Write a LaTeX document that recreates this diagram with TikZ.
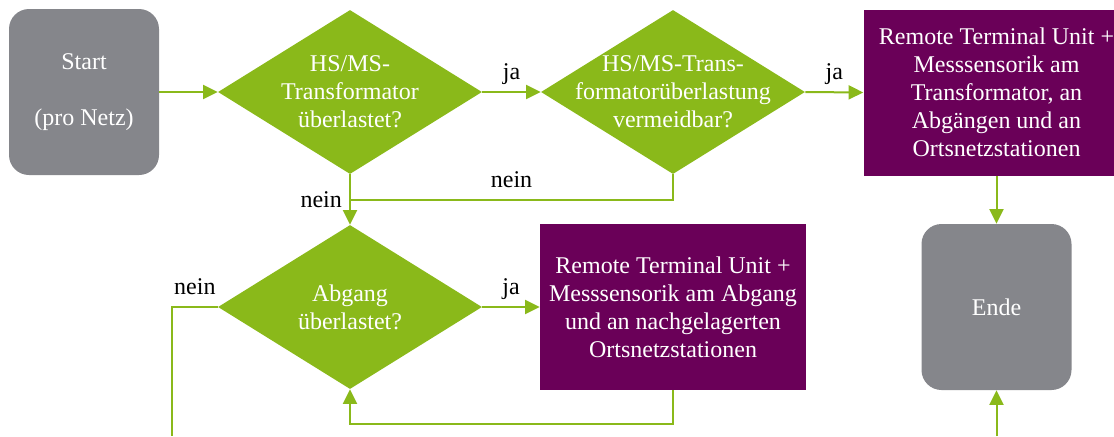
\documentclass[tikz,border=0pt]{standalone}
\usepackage{fontspec}
\setmainfont{Liberation Serif}
\usetikzlibrary{shapes.geometric,arrows.meta}
\definecolor{ngreen}{RGB}{138,185,26}
\definecolor{npurple}{RGB}{106,0,88}
\definecolor{ngray}{RGB}{133,134,139}

\begin{document}
\begin{tikzpicture}[x=0.75pt,y=-0.75pt,
        font=\fontsize{18}{21}\selectfont,
        >={Triangle[length=11pt,width=10.5pt]},
        term/.style={rectangle,rounded corners=15pt,fill=ngray,text=white,align=center,
            minimum width=112.5pt,minimum height=124.5pt},
        decision/.style={diamond,fill=ngreen,inner sep=0pt,minimum width=198pt,minimum height=123pt},
        dtext/.style={text=white,align=center},
        action/.style={rectangle,fill=npurple,text=white,align=center,
            minimum width=199.5pt,minimum height=124.5pt,inner sep=2pt},
        flow/.style={draw=ngreen,line width=1.5pt},
        answer/.style={text depth=3.5pt}]
            \clip (0,0) rectangle (1114,436);
            \coordinate (join) at (350,200);
            \coordinate (outleft) at (172,436);
            \coordinate (outright) at (996.5,436);

            \node[term] (start) at (84,92) {Start\\{}\\(pro Netz)};
            \node[decision,label={[dtext]center:HS/MS-\\Transformator\\überlastet?}] (d1) at (350,92) {};
            \node[decision,label={[dtext]center:HS/MS-Trans-\\formatorüberlastung\\vermeidbar?}] (d2) at (673,92) {};
            \node[action] (p1) at (996.5,92.5) {Remote Terminal Unit +\\Messsensorik am\\Transformator, an\\Abgängen und an\\Ortsnetzstationen};
            \node[decision,label={[dtext]center:Abgang\\überlastet?}] (d3) at (350,307) {};
            \node[action] (p2) at (673,307) {Remote Terminal Unit +\\Messsensorik am Abgang\\und an nachgelagerten\\Ortsnetzstationen};
            \node[term] (ende) at (996.5,307) {Ende};

            \draw[flow,->] (start.east) -- (d1.west);
            \draw[flow,->] (d1.east) -- (d2.west) node[answer,midway,above=2pt] {ja};
            \draw[flow,->] (d2.east) -- (p1.west) node[answer,midway,above=2pt] {ja};
            \draw[flow,->] (d1.south) -- (d3.north) node[midway,left=2pt] {nein};
            \draw[flow] (d2.south) |- (join) node[answer,pos=0.75,above=2pt] {nein};
            \draw[flow,->] (p1.south) -- (ende.north);
            \draw[flow,->] (d3.east) -- (p2.west) node[answer,midway,above=2pt] {ja};
            \draw[flow] (d3.west) -| (outleft) node[answer,pos=0.25,above=2pt] {nein};
            \draw[flow,->] (p2.south) -- ++(0,34) -| (d3.south);
            \draw[flow,->] (outright) -- (ende.south);
        \end{tikzpicture}
\end{document}
